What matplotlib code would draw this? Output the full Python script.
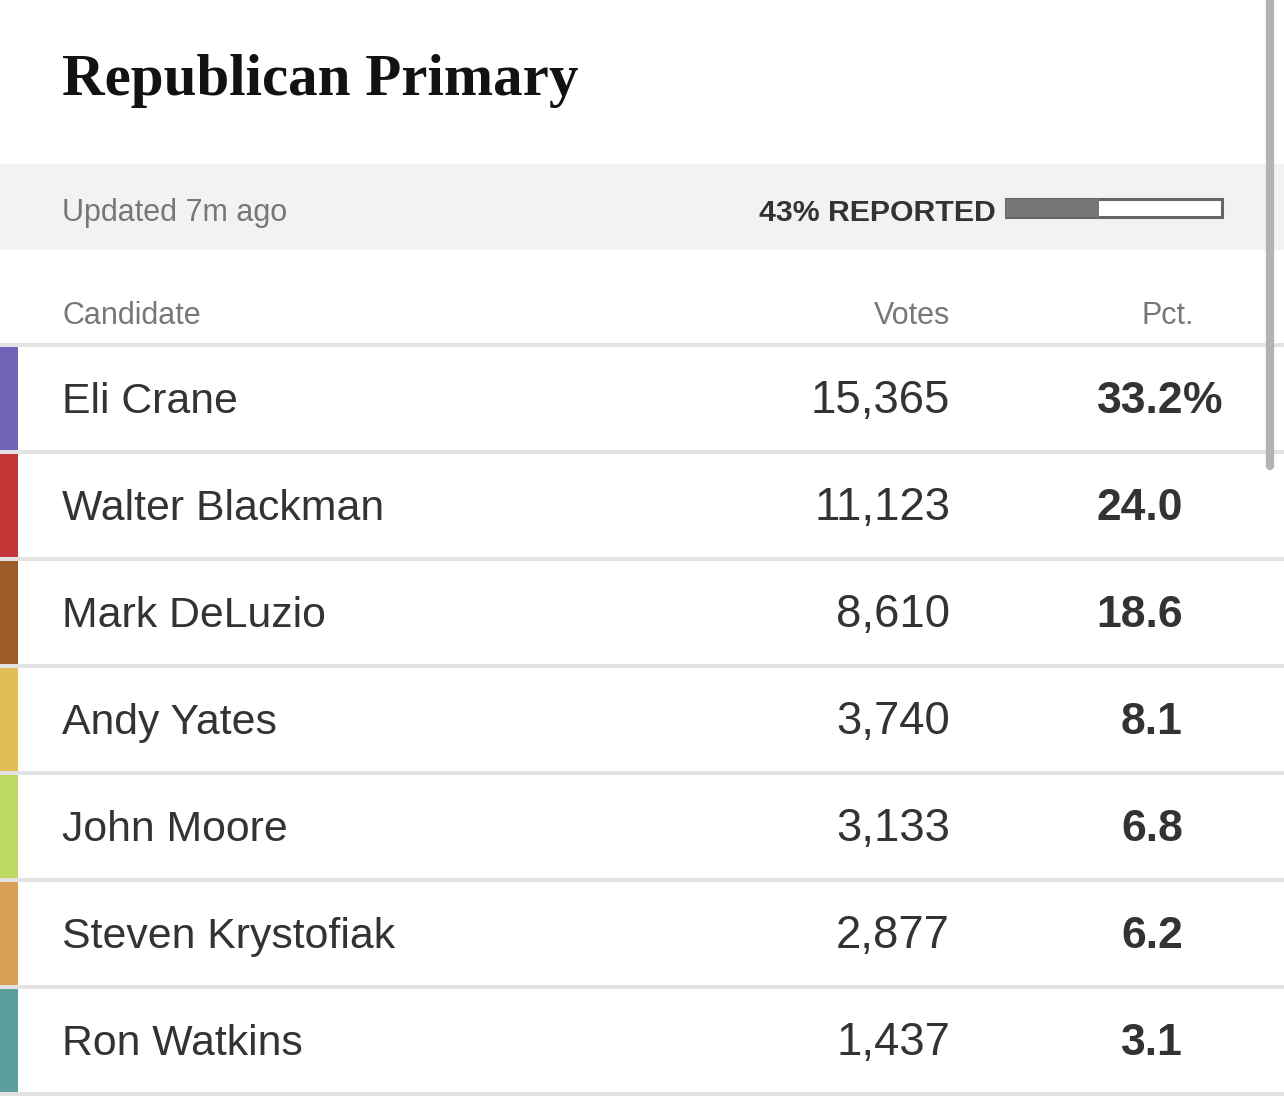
import matplotlib
matplotlib.use("Agg")
from matplotlib import pyplot as plt
from matplotlib.patches import Rectangle

# data
title = "Republican Primary"
updated = "Updated 7m ago"
reported_pct = 43
candidates = ["Eli Crane", "Walter Blackman", "Mark DeLuzio", "Andy Yates",
              "John Moore", "Steven Krystofiak", "Ron Watkins"]
votes = [15365, 11123, 8610, 3740, 3133, 2877, 1437]
pcts = [33.2, 24.0, 18.6, 8.1, 6.8, 6.2, 3.1]
colors = ["#7162b8", "#c33536", "#9c5c27", "#e2be54", "#bcd961", "#d9a156", "#5a9f9d"]

W, H = 1284, 1112
fig = plt.figure(figsize=(W / 100, H / 100), dpi=100)
ax = fig.add_axes([0, 0, 1, 1])
ax.set_xlim(0, W)
ax.set_ylim(H, 0)
ax.axis("off")

sans = "Liberation Sans"
dark = "#333333"
grey = "#777777"

# title
ax.text(62, 95, title, fontsize=42.5, fontweight="bold", family="Liberation Serif",
        color="#121212", ha="left", va="baseline")

# status band
ax.add_patch(Rectangle((0, 164), W, 86, color="#f2f2f2", lw=0))
ax.text(62, 221, updated, fontsize=22, family=sans, color=grey, va="baseline")
ax.text(996, 221, "%d%% REPORTED" % reported_pct, fontsize=21.8, family=sans,
        fontweight="bold", color=dark, ha="right", va="baseline")
bx, bw = 1006, 216
ax.add_patch(Rectangle((bx, 199), bw, 18, facecolor="white", edgecolor="#666666", lw=2.2))
ax.add_patch(Rectangle((bx, 199), bw * reported_pct / 100, 18, facecolor="#777777", lw=0))

# header
ax.text(62, 324, "Candidate", fontsize=22, family=sans, color=grey, va="baseline")
ax.text(950, 324, "Votes", fontsize=22, family=sans, color=grey, ha="right", va="baseline")
ax.text(1194, 324, "Pct.", fontsize=22, family=sans, color=grey, ha="right", va="baseline")

row_h = 107
top = 345
ax.plot([0, W], [top, top], color="#e2e2e2", lw=2.8, solid_capstyle="butt")
for i, name in enumerate(candidates):
    y0 = top + i * row_h
    ax.add_patch(Rectangle((0, y0 + 2), 18, row_h - 4, color=colors[i], lw=0))
    ax.plot([0, W], [y0 + row_h, y0 + row_h], color="#e2e2e2", lw=2.8, solid_capstyle="butt")
    base = y0 + 68
    ax.text(62, base, name, fontsize=30.8, family=sans, color=dark, va="baseline")
    ax.text(950, base, "{:,}".format(votes[i]), fontsize=32.8, family=sans, color=dark,
            ha="right", va="baseline")
    ax.text(1183, base, "%.1f" % pcts[i], fontsize=32, family=sans, fontweight="bold",
            color=dark, ha="right", va="baseline")
    if i == 0:
        ax.text(1183, base, "%", fontsize=32, family=sans, fontweight="bold",
                color=dark, ha="left", va="baseline")

# scrollbar
ax.plot([1270, 1270], [0, 466], color="#b3b3b3", lw=6, solid_capstyle="round")

fig.savefig("out.png", dpi=100, facecolor="white")
